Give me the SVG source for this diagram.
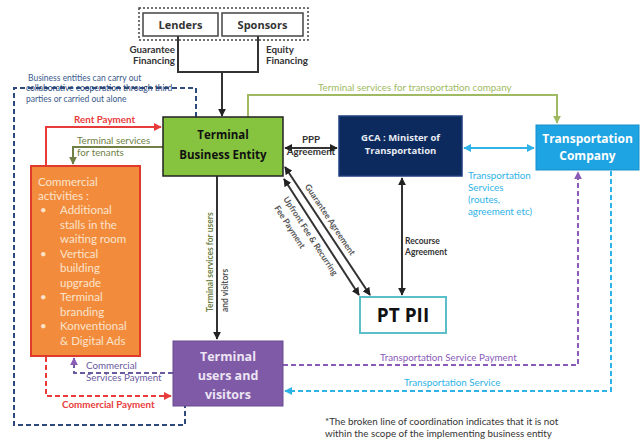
<svg xmlns="http://www.w3.org/2000/svg" width="644" height="439" viewBox="0 0 644 439">
  <style>
    .lbl { font-family: Lato, "Open Sans", "Liberation Sans", sans-serif; font-size: 9.8px; }
    .sm { font-size: 8.5px; }
    .node { font-family: "Open Sans", "Liberation Sans", sans-serif; font-weight: bold; }
    .blk { stroke: #333; stroke-width: 2; fill: none; }
    .dash { stroke-dasharray: 5 3; fill: none; stroke-width: 2; }
  </style>
  <defs>
    <marker id="aBlk" viewBox="0 0 10 10" refX="9" refY="5" markerWidth="4" markerHeight="4" orient="auto-start-reverse"><path d="M0,0 L10,5 L0,10 z" fill="#222"/></marker>
    <marker id="aRed" viewBox="0 0 10 10" refX="9" refY="5" markerWidth="4" markerHeight="4" orient="auto-start-reverse"><path d="M0,0 L10,5 L0,10 z" fill="#e83c3c"/></marker>
    <marker id="aOlv" viewBox="0 0 10 10" refX="9" refY="5" markerWidth="4" markerHeight="4" orient="auto-start-reverse"><path d="M0,0 L10,5 L0,10 z" fill="#6f7f45"/></marker>
    <marker id="aLgr" viewBox="0 0 10 10" refX="9" refY="5" markerWidth="4" markerHeight="4" orient="auto-start-reverse"><path d="M0,0 L10,5 L0,10 z" fill="#9fba62"/></marker>
    <marker id="aCyn" viewBox="0 0 10 10" refX="9" refY="5" markerWidth="4" markerHeight="4" orient="auto-start-reverse"><path d="M0,0 L10,5 L0,10 z" fill="#2fb3e6"/></marker>
    <marker id="aPur" viewBox="0 0 10 10" refX="9" refY="5" markerWidth="4" markerHeight="4" orient="auto-start-reverse"><path d="M0,0 L10,5 L0,10 z" fill="#8a5cb8"/></marker>
  </defs>
  <rect width="644" height="439" fill="#fff"/>

  <!-- scope boundary of the business entity -->
  <g id="scope">
    <path d="M196,117 V88 H14 V425 H185 V406" stroke="#2c4a7c" class="dash"/>
    <text class="lbl sm" x="28" y="81" fill="#3a5a8c">Business entities  can carry out</text>
    <text class="lbl sm" x="26" y="91" fill="#2c4a7c">collaborative cooperation through third</text>
    <text class="lbl sm" x="26" y="102" fill="#3a5a8c">parties or carried out  alone</text>
  </g>

  <!-- connectors -->
  <g id="connectors">
    <!-- financing -->
    <path d="M178,36 V72 H258 V36" class="blk"/>
    <path d="M222,72 V116" class="blk" marker-end="url(#aBlk)"/>
    <text class="lbl" x="175" y="53" text-anchor="end" fill="#333" font-weight="bold">Guarantee</text>
    <text class="lbl" x="175" y="64" text-anchor="end" fill="#333" font-weight="bold">Financing</text>
    <text class="lbl" x="266" y="53" fill="#333" font-weight="bold">Equity</text>
    <text class="lbl" x="266" y="64" fill="#333" font-weight="bold">Financing</text>

    <!-- rent payment -->
    <path d="M46,165 V127 H161" stroke="#e83c3c" stroke-width="2" fill="none" marker-end="url(#aRed)"/>
    <text class="lbl" x="74" y="123" fill="#e83c3c" font-weight="bold">Rent Payment</text>

    <!-- terminal services for tenants -->
    <path d="M163,147 H73 V164" stroke="#6f7f45" stroke-width="2" fill="none" marker-end="url(#aOlv)"/>
    <text class="lbl" x="77" y="144" fill="#6f7f45">Terminal services</text>
    <text class="lbl" x="77" y="156" fill="#6f7f45">for tenants</text>

    <!-- terminal services for transportation company -->
    <path d="M248,117 V95 H557 V123" stroke="#9fba62" stroke-width="2" fill="none" marker-end="url(#aLgr)"/>
    <text class="lbl" x="318" y="91" fill="#9fba62">Terminal services for transportation company</text>

    <!-- PPP agreement -->
    <path d="M285,148 H337" class="blk" marker-start="url(#aBlk)" marker-end="url(#aBlk)"/>
    <text class="lbl" x="311" y="143" text-anchor="middle" fill="#333" font-weight="bold">PPP</text>
    <text class="lbl" x="311" y="155" text-anchor="middle" fill="#333" font-weight="bold">Agreement</text>

    <!-- GCA to transportation company -->
    <path d="M464,148 H534" stroke="#2fb3e6" stroke-width="2" fill="none" marker-start="url(#aCyn)" marker-end="url(#aCyn)"/>
    <text class="lbl" x="468" y="179" fill="#2fb3e6">Transportation</text>
    <text class="lbl" x="468" y="191" fill="#2fb3e6">Services</text>
    <text class="lbl" x="468" y="203" fill="#2fb3e6">(routes,</text>
    <text class="lbl" x="468" y="215" fill="#2fb3e6">agreement etc)</text>

    <!-- recourse agreement -->
    <path d="M402,178 V295" class="blk" marker-start="url(#aBlk)" marker-end="url(#aBlk)"/>
    <text class="lbl sm" x="405" y="244" fill="#333" font-weight="bold">Recourse</text>
    <text class="lbl sm" x="405" y="255" fill="#333" font-weight="bold">Agreement</text>

    <!-- guarantee agreement / upfront fee -->
    <path d="M285,167 L370,295" class="blk" marker-start="url(#aBlk)" marker-end="url(#aBlk)"/>
    <path d="M284,179 L359,295" class="blk" marker-start="url(#aBlk)" marker-end="url(#aBlk)"/>
    <text class="lbl sm" transform="translate(304.5,186.5) rotate(56.4)" fill="#555" font-weight="bold">Guarantee Agreement</text>
    <text class="lbl sm" transform="translate(283,199) rotate(57)" fill="#555" font-weight="bold">Upfront Fee &amp; Recurring</text>
    <text class="lbl sm" transform="translate(274,208) rotate(57)" fill="#555" font-weight="bold">Fee Payment</text>

    <!-- terminal services for users and visitors -->
    <path d="M217,176 V339" class="blk" marker-end="url(#aBlk)"/>
    <text class="lbl sm" transform="translate(213,312) rotate(-90)" fill="#6f7f45" font-weight="bold">Terminal services for users</text>
    <text class="lbl sm" transform="translate(228,312) rotate(-90)" fill="#555" font-weight="bold">and visitors</text>

    <!-- transportation service payment -->
    <path d="M283,365 H578 V172" stroke="#8a5cb8" class="dash" marker-end="url(#aPur)"/>
    <text class="lbl" x="380" y="361" fill="#8a5cb8">Transportation Service Payment</text>

    <!-- transportation service -->
    <path d="M611,171 V391 H285" stroke="#2fb3e6" class="dash" marker-end="url(#aCyn)"/>
    <text class="lbl" x="404" y="386" fill="#2fb3e6">Transportation Service</text>

    <!-- commercial services payment -->
    <path d="M173,373 H74 V358" stroke="#6a5aa0" class="dash" marker-end="url(#aPur)"/>
    <text class="lbl" x="86" y="369" fill="#6a5aa0">Commercial</text>
    <text class="lbl" x="86" y="381" fill="#6a5aa0">Services Payment</text>

    <!-- commercial payment -->
    <path d="M46,357 V396 H171" stroke="#e83c3c" class="dash" marker-end="url(#aRed)"/>
    <text class="lbl" x="62" y="408" fill="#e83c3c" font-weight="bold">Commercial Payment</text>
  </g>

  <!-- funders -->
  <g id="funders">
    <rect x="139" y="8" width="169" height="32" fill="none" stroke="#444" stroke-width="1.5" stroke-dasharray="2 2"/>
  </g>
  <g id="lenders">
    <rect x="143" y="13" width="75" height="23" fill="#fff" stroke="#444" stroke-width="1.5"/>
    <text class="node" x="180.5" y="29" text-anchor="middle" font-size="11" fill="#333">Lenders</text>
  </g>
  <g id="sponsors">
    <rect x="222" y="13" width="81" height="23" fill="#fff" stroke="#444" stroke-width="1.5"/>
    <text class="node" x="262.5" y="29" text-anchor="middle" font-size="11" fill="#333">Sponsors</text>
  </g>

  <g id="terminal-business-entity">
    <rect x="163" y="117" width="120" height="59" fill="#86c440" stroke="#222" stroke-width="1.5"/>
    <text class="node" x="223" y="139" text-anchor="middle" font-size="11.5" fill="#111">Terminal</text>
    <text class="node" x="223" y="159" text-anchor="middle" font-size="11.5" fill="#111">Business Entity</text>
  </g>

  <g id="gca">
    <rect x="339" y="116" width="123" height="60" fill="#0c2a5e" stroke="#1e3f80" stroke-width="1.5"/>
    <text class="node" x="400.5" y="141" text-anchor="middle" font-size="9.5" fill="#e8ecf4">GCA : Minister of</text>
    <text class="node" x="400.5" y="154" text-anchor="middle" font-size="9.5" fill="#e8ecf4">Transportation</text>
  </g>

  <g id="transportation-company">
    <rect x="536" y="125" width="103" height="45" fill="#1ea4e2" stroke="#1590cc" stroke-width="1"/>
    <text class="node" x="587.5" y="143" text-anchor="middle" font-size="12" fill="#fff">Transportation</text>
    <text class="node" x="587.5" y="160" text-anchor="middle" font-size="12" fill="#fff">Company</text>
  </g>

  <g id="commercial-activities">
    <rect x="31" y="166" width="109" height="190" fill="#f28c3c" stroke="#e03a2a" stroke-width="2"/>
    <g font-family="Lato, 'Open Sans', 'Liberation Sans', sans-serif" font-size="11.5" fill="#fbe3cc">
      <text x="38" y="186">Commercial</text>
      <text x="38" y="200">activities :</text>
      <text x="40" y="214">•</text><text x="60" y="214">Additional</text>
      <text x="60" y="229">stalls in the</text>
      <text x="60" y="243">waiting room</text>
      <text x="40" y="258">•</text><text x="60" y="258">Vertical</text>
      <text x="60" y="272">building</text>
      <text x="60" y="287">upgrade</text>
      <text x="40" y="301">•</text><text x="60" y="301">Terminal</text>
      <text x="60" y="316">branding</text>
      <text x="40" y="330">•</text><text x="60" y="330">Konventional</text>
      <text x="60" y="345">&amp; Digital Ads</text>
    </g>
  </g>

  <g id="terminal-users">
    <rect x="173" y="341" width="110" height="65" fill="#7f5aa6" stroke="#6a4a92" stroke-width="1"/>
    <text class="node" x="228" y="361" text-anchor="middle" font-size="12.5" fill="#ece4f4">Terminal</text>
    <text class="node" x="228" y="380" text-anchor="middle" font-size="12.5" fill="#ece4f4">users and</text>
    <text class="node" x="228" y="399" text-anchor="middle" font-size="12.5" fill="#ece4f4">visitors</text>
  </g>

  <g id="pt-pii">
    <rect x="360" y="297" width="86" height="36" fill="#fff" stroke="#5bbfc9" stroke-width="2"/>
    <text class="node" x="403" y="322" text-anchor="middle" font-size="19" fill="#111">PT PII</text>
  </g>

  <g id="note">
    <text class="lbl" x="325" y="425" fill="#333">*The broken line of coordination indicates that it is not</text>
    <text class="lbl" x="325" y="437" fill="#333">within the scope of the implementing business entity</text>
  </g>
</svg>
